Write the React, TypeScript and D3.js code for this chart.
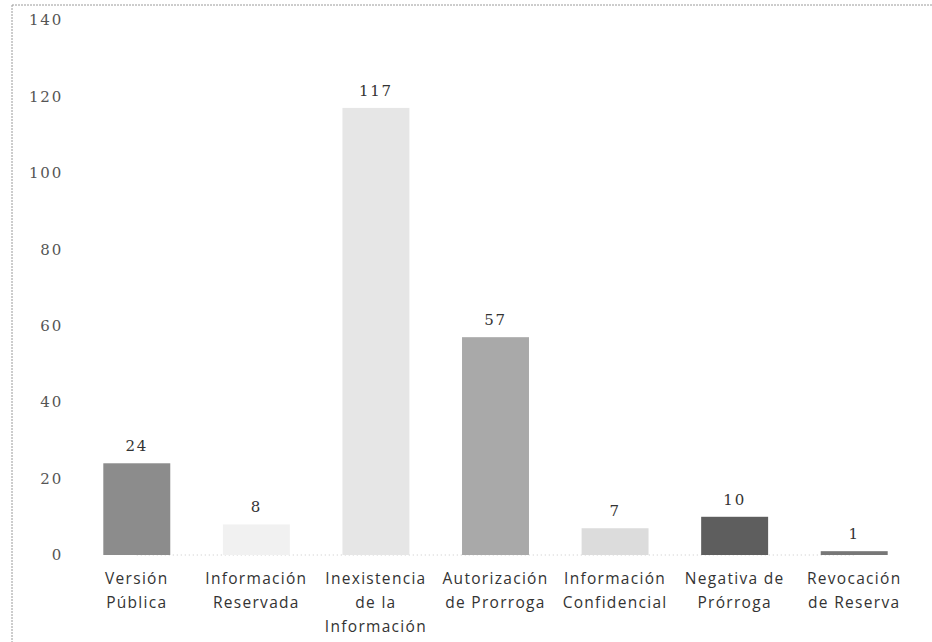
import React from "react";
import * as d3 from "d3";

const categories = [
    ["Versión", "Pública"],
    ["Información", "Reservada"],
    ["Inexistencia", "de la", "Información"],
    ["Autorización", "de Prorroga"],
    ["Información", "Confidencial"],
    ["Negativa de", "Prórroga"],
    ["Revocación", "de Reserva"],
]
const values = [24, 8, 117, 57, 7, 10, 1]
const fills = ["#8c8c8c", "#f1f1f1", "#e6e6e6", "#a9a9a9", "#dcdcdc", "#5e5e5e", "#777777"]
const yTicks = [0, 20, 40, 60, 80, 100, 120, 140]

const width = 932
const height = 642
const margin = {top: 20, right: 18, bottom: 87, left: 77}

export default function App() {
    const keys = categories.map((c, i) => String(i))

    const x = d3.scaleBand()
        .domain(keys)
        .range([margin.left, width - margin.right])
        .paddingInner(0.44)
        .paddingOuter(0.22)

    const y = d3.scaleLinear()
        .domain([0, 140])
        .range([height - margin.bottom, margin.top])

    const cx = (i: number) => (x(keys[i]) as number) + x.bandwidth() / 2

    return (
        <svg width={width} height={height}
             style={{position: "absolute", left: 0, top: 0, background: "#fff"}}>
            {/* scan frame */}
            <line x1={12} x2={width} y1={5} y2={5} stroke="#9a9a9a" strokeDasharray="2 1" />
            <line x1={12} x2={12} y1={5} y2={height} stroke="#9a9a9a" strokeDasharray="2 1" />

            {/* faint baseline */}
            <line x1={cx(0)} x2={cx(values.length - 1)} y1={y(0)} y2={y(0)}
                  stroke="#c8c8c8" strokeDasharray="1 3" />

            {/* y axis labels */}
            {yTicks.map(t => (
                <text key={t} x={63} y={y(t)} dy="0.35em" textAnchor="end" letterSpacing={1.8}
                      fontFamily="DejaVu Serif" fontSize={15} fill="#555">{t}</text>
            ))}

            {/* bars */}
            {values.map((v, i) => (
                <rect key={i}
                      x={x(keys[i])} width={x.bandwidth()}
                      y={y(v)} height={y(0) - y(v)}
                      fill={fills[i]} />
            ))}

            {/* value labels */}
            {values.map((v, i) => (
                <text key={i} x={cx(i)} y={y(v) - 12} letterSpacing={1.8}
                      textAnchor="middle" fontFamily="DejaVu Serif" fontSize={15} fill="#333">{v}</text>
            ))}

            {/* category labels */}
            {categories.map((lines, i) => (
                <text key={i} textAnchor="middle" fontFamily="Open Sans" fontSize={15.5}
                      letterSpacing={1.3} fill="#333">
                    {lines.map((l, j) => (
                        <tspan key={j} x={cx(i)} y={y(0) + 29 + j * 24}>{l}</tspan>
                    ))}
                </text>
            ))}
        </svg>
    )
}
